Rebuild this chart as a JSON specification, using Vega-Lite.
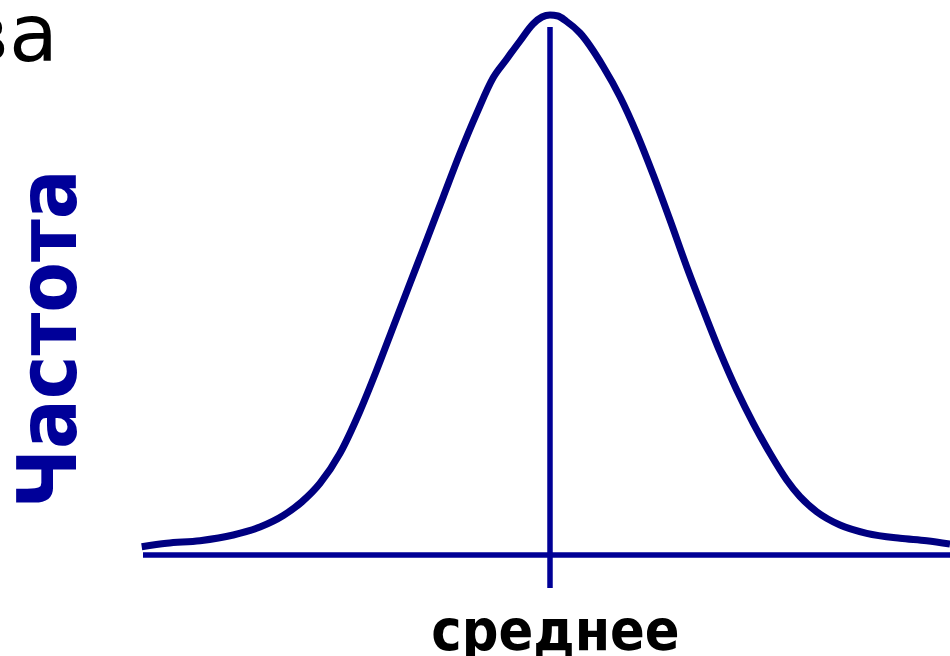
{
  "$schema": "https://vega.github.io/schema/vega-lite/v6.json",
  "width": 950,
  "height": 656,
  "autosize": {"type": "none"},
  "padding": 0,
  "background": "white",
  "config": {"view": {"stroke": null}},
  "datasets": {
    "curve": [
      {"x": -4.083, "y": 0.083},
      {"x": -3.833, "y": 0.117},
      {"x": -3.5, "y": 0.143},
      {"x": -3.167, "y": 0.2},
      {"x": -2.9, "y": 0.28},
      {"x": -2.667, "y": 0.395},
      {"x": -2.483, "y": 0.53},
      {"x": -2.3, "y": 0.717},
      {"x": -2.1, "y": 1.017},
      {"x": -1.9, "y": 1.44},
      {"x": -1.733, "y": 1.85},
      {"x": -1.567, "y": 2.283},
      {"x": -1.4, "y": 2.717},
      {"x": -1.233, "y": 3.15},
      {"x": -1.067, "y": 3.583},
      {"x": -0.9, "y": 4.017},
      {"x": -0.733, "y": 4.417},
      {"x": -0.567, "y": 4.775},
      {"x": -0.44, "y": 4.95},
      {"x": -0.3, "y": 5.14},
      {"x": -0.17, "y": 5.31},
      {"x": -0.08, "y": 5.38},
      {"x": 0.0, "y": 5.4},
      {"x": 0.08, "y": 5.39},
      {"x": 0.16, "y": 5.34},
      {"x": 0.3, "y": 5.22},
      {"x": 0.533, "y": 4.883},
      {"x": 0.7, "y": 4.583},
      {"x": 0.867, "y": 4.217},
      {"x": 1.033, "y": 3.8},
      {"x": 1.2, "y": 3.35},
      {"x": 1.367, "y": 2.883},
      {"x": 1.533, "y": 2.45},
      {"x": 1.7, "y": 2.03},
      {"x": 1.867, "y": 1.65},
      {"x": 2.033, "y": 1.317},
      {"x": 2.2, "y": 1.017},
      {"x": 2.367, "y": 0.75},
      {"x": 2.5, "y": 0.583},
      {"x": 2.667, "y": 0.433},
      {"x": 2.9, "y": 0.3},
      {"x": 3.167, "y": 0.217},
      {"x": 3.5, "y": 0.167},
      {"x": 3.767, "y": 0.143},
      {"x": 4.0, "y": 0.11}
    ],
    "lines": [
      {"x": -4.07, "x2": 4.0, "y": 0, "y2": 0},
      {"x": 0, "x2": 0, "y": 5.28, "y2": -0.33}
    ],
    "labels": [
      {"label": "Частота", "x": -4.74, "y": 2.16},
      {"label": "среднее", "x": 0.055, "y": -0.95},
      {"label": "ва", "x": -4.92, "y": 4.94}
    ]
  },
  "layer": [
    {
      "data": {"name": "lines"},
      "mark": {"type": "rule", "color": "#000096", "strokeWidth": 5.5},
      "encoding": {
        "x": {"field": "x", "type": "quantitative", "scale": {"domain": [-5.5, 4.0], "nice": false, "zero": false}, "axis": null},
        "x2": {"field": "x2"},
        "y": {"field": "y", "type": "quantitative", "scale": {"domain": [-1.01, 5.55], "nice": false, "zero": false}, "axis": null},
        "y2": {"field": "y2"}
      }
    },
    {
      "data": {"name": "curve"},
      "mark": {"type": "line", "color": "#000080", "strokeWidth": 7, "interpolate": "monotone"},
      "encoding": {
        "x": {"field": "x", "type": "quantitative", "scale": {"domain": [-5.5, 4.0], "nice": false, "zero": false}, "axis": null},
        "y": {"field": "y", "type": "quantitative", "scale": {"domain": [-1.01, 5.55], "nice": false, "zero": false}, "axis": null}
      }
    },
    {
      "data": {"name": "labels"},
      "transform": [{"filter": "datum.label == 'Частота'"}],
      "mark": {"type": "text", "font": "DejaVu Sans Condensed, DejaVu Sans", "fontWeight": "bold", "fontSize": 82, "angle": 270, "align": "center", "baseline": "alphabetic", "color": "#000099"},
      "encoding": {
        "x": {"field": "x", "type": "quantitative", "scale": {"domain": [-5.5, 4.0], "nice": false, "zero": false}, "axis": null},
        "y": {"field": "y", "type": "quantitative", "scale": {"domain": [-1.01, 5.55], "nice": false, "zero": false}, "axis": null},
        "text": {"field": "label"}
      }
    },
    {
      "data": {"name": "labels"},
      "transform": [{"filter": "datum.label == 'среднее'"}],
      "mark": {"type": "text", "font": "DejaVu Sans Condensed, DejaVu Sans", "fontWeight": "bold", "fontSize": 57, "align": "center", "baseline": "alphabetic", "color": "#000000"},
      "encoding": {
        "x": {"field": "x", "type": "quantitative", "scale": {"domain": [-5.5, 4.0], "nice": false, "zero": false}, "axis": null},
        "y": {"field": "y", "type": "quantitative", "scale": {"domain": [-1.01, 5.55], "nice": false, "zero": false}, "axis": null},
        "text": {"field": "label"}
      }
    },
    {
      "data": {"name": "labels"},
      "transform": [{"filter": "datum.label == 'ва'"}],
      "mark": {"type": "text", "font": "DejaVu Sans", "fontWeight": "normal", "fontSize": 80, "align": "right", "baseline": "alphabetic", "color": "#000000"},
      "encoding": {
        "x": {"field": "x", "type": "quantitative", "scale": {"domain": [-5.5, 4.0], "nice": false, "zero": false}, "axis": null},
        "y": {"field": "y", "type": "quantitative", "scale": {"domain": [-1.01, 5.55], "nice": false, "zero": false}, "axis": null},
        "text": {"field": "label"}
      }
    }
  ]
}
